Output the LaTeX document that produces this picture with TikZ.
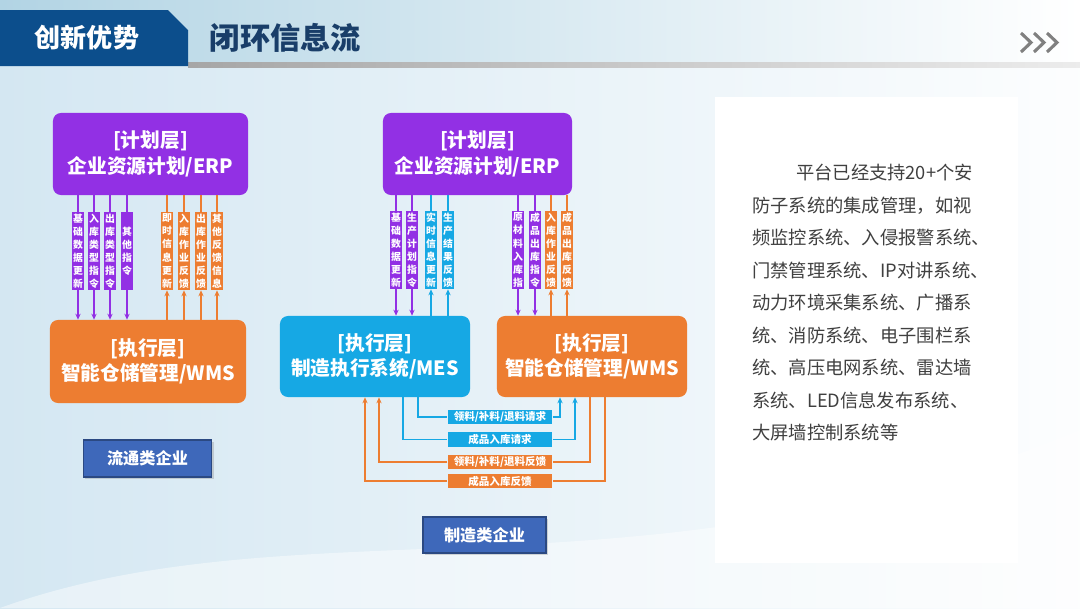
\documentclass[tikz,border=0pt]{standalone}
\usepackage{fontspec}
\setmainfont{Noto Sans CJK SC}
\usepackage{xcolor}
\definecolor{PlanPurple}{RGB}{146,48,228}
\definecolor{ExecOrange}{RGB}{237,125,49}
\definecolor{ExecCyan}{RGB}{22,168,228}
\definecolor{TabBlue}{RGB}{12,78,140}
\definecolor{TitleBlue}{RGB}{25,62,105}
\definecolor{BtnBlue}{RGB}{62,104,186}
\definecolor{BodyText}{RGB}{64,64,64}
\definecolor{BgBlue}{RGB}{212,231,242}
\definecolor{HeadBlue}{RGB}{178,212,228}
\usetikzlibrary{arrows.meta,calc,shadows}
\tikzset{
  % layer box (ERP / MES / WMS)
  layerbox/.style={
    rounded corners=0.2cm,
    fill=#1,
    text=white,
    align=center,
    inner sep=0pt,
    font=\bfseries\fontsize{14}{18}\selectfont
  },
  % vertical label bar
  vbar/.style={
    fill=#1,
    text=white,
    minimum width=0.29cm,
    minimum height=1.95cm,
    inner sep=0pt,
    align=center,
    font=\bfseries\fontsize{7}{9.3}\selectfont
  },
  % horizontal label on the bottom loops
  hbar/.style={
    fill=#1,
    text=white,
    minimum width=2.62cm,
    minimum height=0.36cm,
    inner sep=0pt,
    font=\bfseries\fontsize{7.5}{9}\selectfont
  },
  % connectors
  link/.style={draw=#1, line width=0.8pt},
  down/.style={link=#1, -{Stealth[length=1.5mm,width=1.3mm]}},
  up/.style={link=#1, {Stealth[length=1.5mm,width=1.3mm]}-},
  tip/.style={-{Stealth[length=1.5mm,width=1.3mm]}},
  % enterprise type button
  btn/.style={
    fill=BtnBlue,
    draw=BtnBlue!70!black,
    line width=1pt,
    text=white,
    inner sep=0pt,
    font=\bfseries\fontsize{11.5}{14}\selectfont,
    drop shadow={shadow xshift=0.05cm,shadow yshift=-0.05cm,opacity=0.3}
  }
}

\begin{document}
\begin{tikzpicture}[x=0.025cm, y=-0.025cm]
  \useasboundingbox (0,0) rectangle (1080,608);

  % background and header
  \shade[left color=BgBlue, right color=white!94!BgBlue] (0,66) rectangle (1080,608);
  \fill[white, opacity=0.45] (0,608) .. controls (300,500) and (650,610) .. (1080,430) -- (1080,608) -- cycle;
  \shade[left color=HeadBlue, right color=white] (0,0) rectangle (1080,63);
  \shade[left color=gray!70, right color=gray!15] (188,62) rectangle (1080,67);
  \fill[TabBlue] (0,10) -- (168,10) -- (188,30) -- (188,66) -- (0,66) -- cycle;
  \node[text=white, font=\bfseries\fontsize{18.5}{22}\selectfont] (tab) at (87,38) {创新优势};
  \node[text=TitleBlue, font=\bfseries\fontsize{21.5}{25}\selectfont, anchor=west] (title) at (205,38) {闭环信息流};
  \foreach \i in {0,1,2}
    \draw[gray, line width=2.2pt] (1021+13*\i,33) -- (1031+13*\i,42.5) -- (1021+13*\i,52);

  % text panel
  \fill[white] (715,97) rectangle (1018,563);
  \node[anchor=north west, inner sep=0pt, align=left, text=BodyText,
        font=\fontsize{13}{23.1}\selectfont] (intro) at (752,164) {%
    \hspace*{2.4em}平台已经支持20+个安\\
    防子系统的集成管理，如视\\
    频监控系统、入侵报警系统、\\
    门禁管理系统、IP对讲系统、\\
    动力环境采集系统、广播系\\
    统、消防系统、电子围栏系\\
    统、高压电网系统、雷达墙\\
    系统、LED信息发布系统、\\
    大屏墙控制系统等};

  % ---- circulation enterprise ----
  \node[layerbox=PlanPurple, minimum width=4.875cm, minimum height=2.05cm] (erpA) at (150.5,154) {[计划层]\\企业资源计划/ERP};
  \node[layerbox=ExecOrange, minimum width=4.9cm, minimum height=2.075cm] (wmsA) at (148,361.5) {[执行层]\\智能仓储管理/WMS};

  \node[vbar=PlanPurple] (a1) at (78,251)  {基\\础\\数\\据\\更\\新};
  \node[vbar=PlanPurple] (a2) at (94,251)  {入\\库\\类\\型\\指\\令};
  \node[vbar=PlanPurple] (a3) at (110,251) {出\\库\\类\\型\\指\\令};
  \node[vbar=PlanPurple] (a4) at (127,251) {其\\他\\指\\令};
  \node[vbar=ExecOrange] (a5) at (167,251) {即\\时\\信\\息\\更\\新};
  \node[vbar=ExecOrange] (a6) at (184,251) {入\\库\\作\\业\\反\\馈};
  \node[vbar=ExecOrange] (a7) at (201,251) {出\\库\\作\\业\\反\\馈};
  \node[vbar=ExecOrange] (a8) at (217,251) {其\\他\\反\\馈\\信\\息};

  \foreach \n in {a1,a2,a3,a4}
    \draw[down=PlanPurple] (\n |- erpA.south) -- (\n.north) (\n.south) -- (\n |- wmsA.north);
  \foreach \n in {a5,a6,a7,a8}
    \draw[up=ExecOrange] (\n |- erpA.south) -- (\n.north) (\n.south) -- (\n |- wmsA.north);

  \node[btn, minimum width=3.2cm, minimum height=0.92cm] (typeA) at (147.5,458.5) {流通类企业};

  % ---- manufacturing enterprise ----
  \node[layerbox=PlanPurple, minimum width=4.725cm, minimum height=2.05cm] (erpB) at (477.5,154) {[计划层]\\企业资源计划/ERP};
  \node[layerbox=ExecCyan, minimum width=4.75cm, minimum height=2.025cm] (mes) at (375,356.5) {[执行层]\\制造执行系统/MES};
  \node[layerbox=ExecOrange, minimum width=4.75cm, minimum height=2.025cm] (wmsB) at (592,356.5) {[执行层]\\智能仓储管理/WMS};

  \node[vbar=PlanPurple] (b1) at (396,250) {基\\础\\数\\据\\更\\新};
  \node[vbar=PlanPurple] (b2) at (412,250) {生\\产\\计\\划\\指\\令};
  \node[vbar=ExecCyan]   (b3) at (431,250) {实\\时\\信\\息\\更\\新};
  \node[vbar=ExecCyan]   (b4) at (448,250) {生\\产\\结\\果\\反\\馈};
  \node[vbar=PlanPurple] (c1) at (518,250) {原\\材\\料\\入\\库\\指};
  \node[vbar=PlanPurple] (c2) at (535,250) {成\\品\\出\\库\\指\\令};
  \node[vbar=ExecOrange] (c3) at (551,250) {入\\库\\作\\业\\反\\馈};
  \node[vbar=ExecOrange] (c4) at (567,250) {成\\品\\出\\库\\反\\馈};

  \foreach \n in {b1,b2}
    \draw[down=PlanPurple] (\n |- erpB.south) -- (\n.north) (\n.south) -- (\n |- mes.north);
  \foreach \n in {b3,b4}
    \draw[up=ExecCyan] (\n |- erpB.south) -- (\n.north) (\n.south) -- (\n |- mes.north);
  \foreach \n in {c1,c2}
    \draw[down=PlanPurple] (\n |- erpB.south) -- (\n.north) (\n.south) -- (\n |- wmsB.north);
  \foreach \n in {c3,c4}
    \draw[up=ExecOrange] (\n |- erpB.south) -- (\n.north) (\n.south) -- (\n |- wmsB.north);

  % bottom loops between MES and WMS
  \node[hbar=ExecCyan]   (q1) at (500,417) {领料/补料/退料请求};
  \node[hbar=ExecCyan]   (q2) at (500,439.5) {成品入库请求};
  \node[hbar=ExecOrange] (q3) at (500,462) {领料/补料/退料反馈};
  \node[hbar=ExecOrange] (q4) at (500,481) {成品入库反馈};

  \coordinate (t1) at (418,0);
  \coordinate (t2) at (403,0);
  \coordinate (t3) at (379,0);
  \coordinate (t4) at (365,0);
  \coordinate (t5) at (560,0);
  \coordinate (t6) at (575,0);
  \coordinate (t7) at (590,0);
  \coordinate (t8) at (605,0);

  \draw[link=ExecCyan] (t1 |- mes.south) |- (q1.west);
  \draw[link=ExecCyan, tip] (q1.east) -| (t5 |- wmsB.south);
  \draw[link=ExecCyan] (t2 |- mes.south) |- (q2.west);
  \draw[link=ExecCyan, tip] (q2.east) -| (t6 |- wmsB.south);
  \draw[link=ExecOrange] (t7 |- wmsB.south) |- (q3.east);
  \draw[link=ExecOrange, tip] (q3.west) -| (t3 |- mes.south);
  \draw[link=ExecOrange] (t8 |- wmsB.south) |- (q4.east);
  \draw[link=ExecOrange, tip] (q4.west) -| (t4 |- mes.south);

  \node[btn, minimum width=3.075cm, minimum height=0.9cm] (typeB) at (484.5,535) {制造类企业};
\end{tikzpicture}
\end{document}
